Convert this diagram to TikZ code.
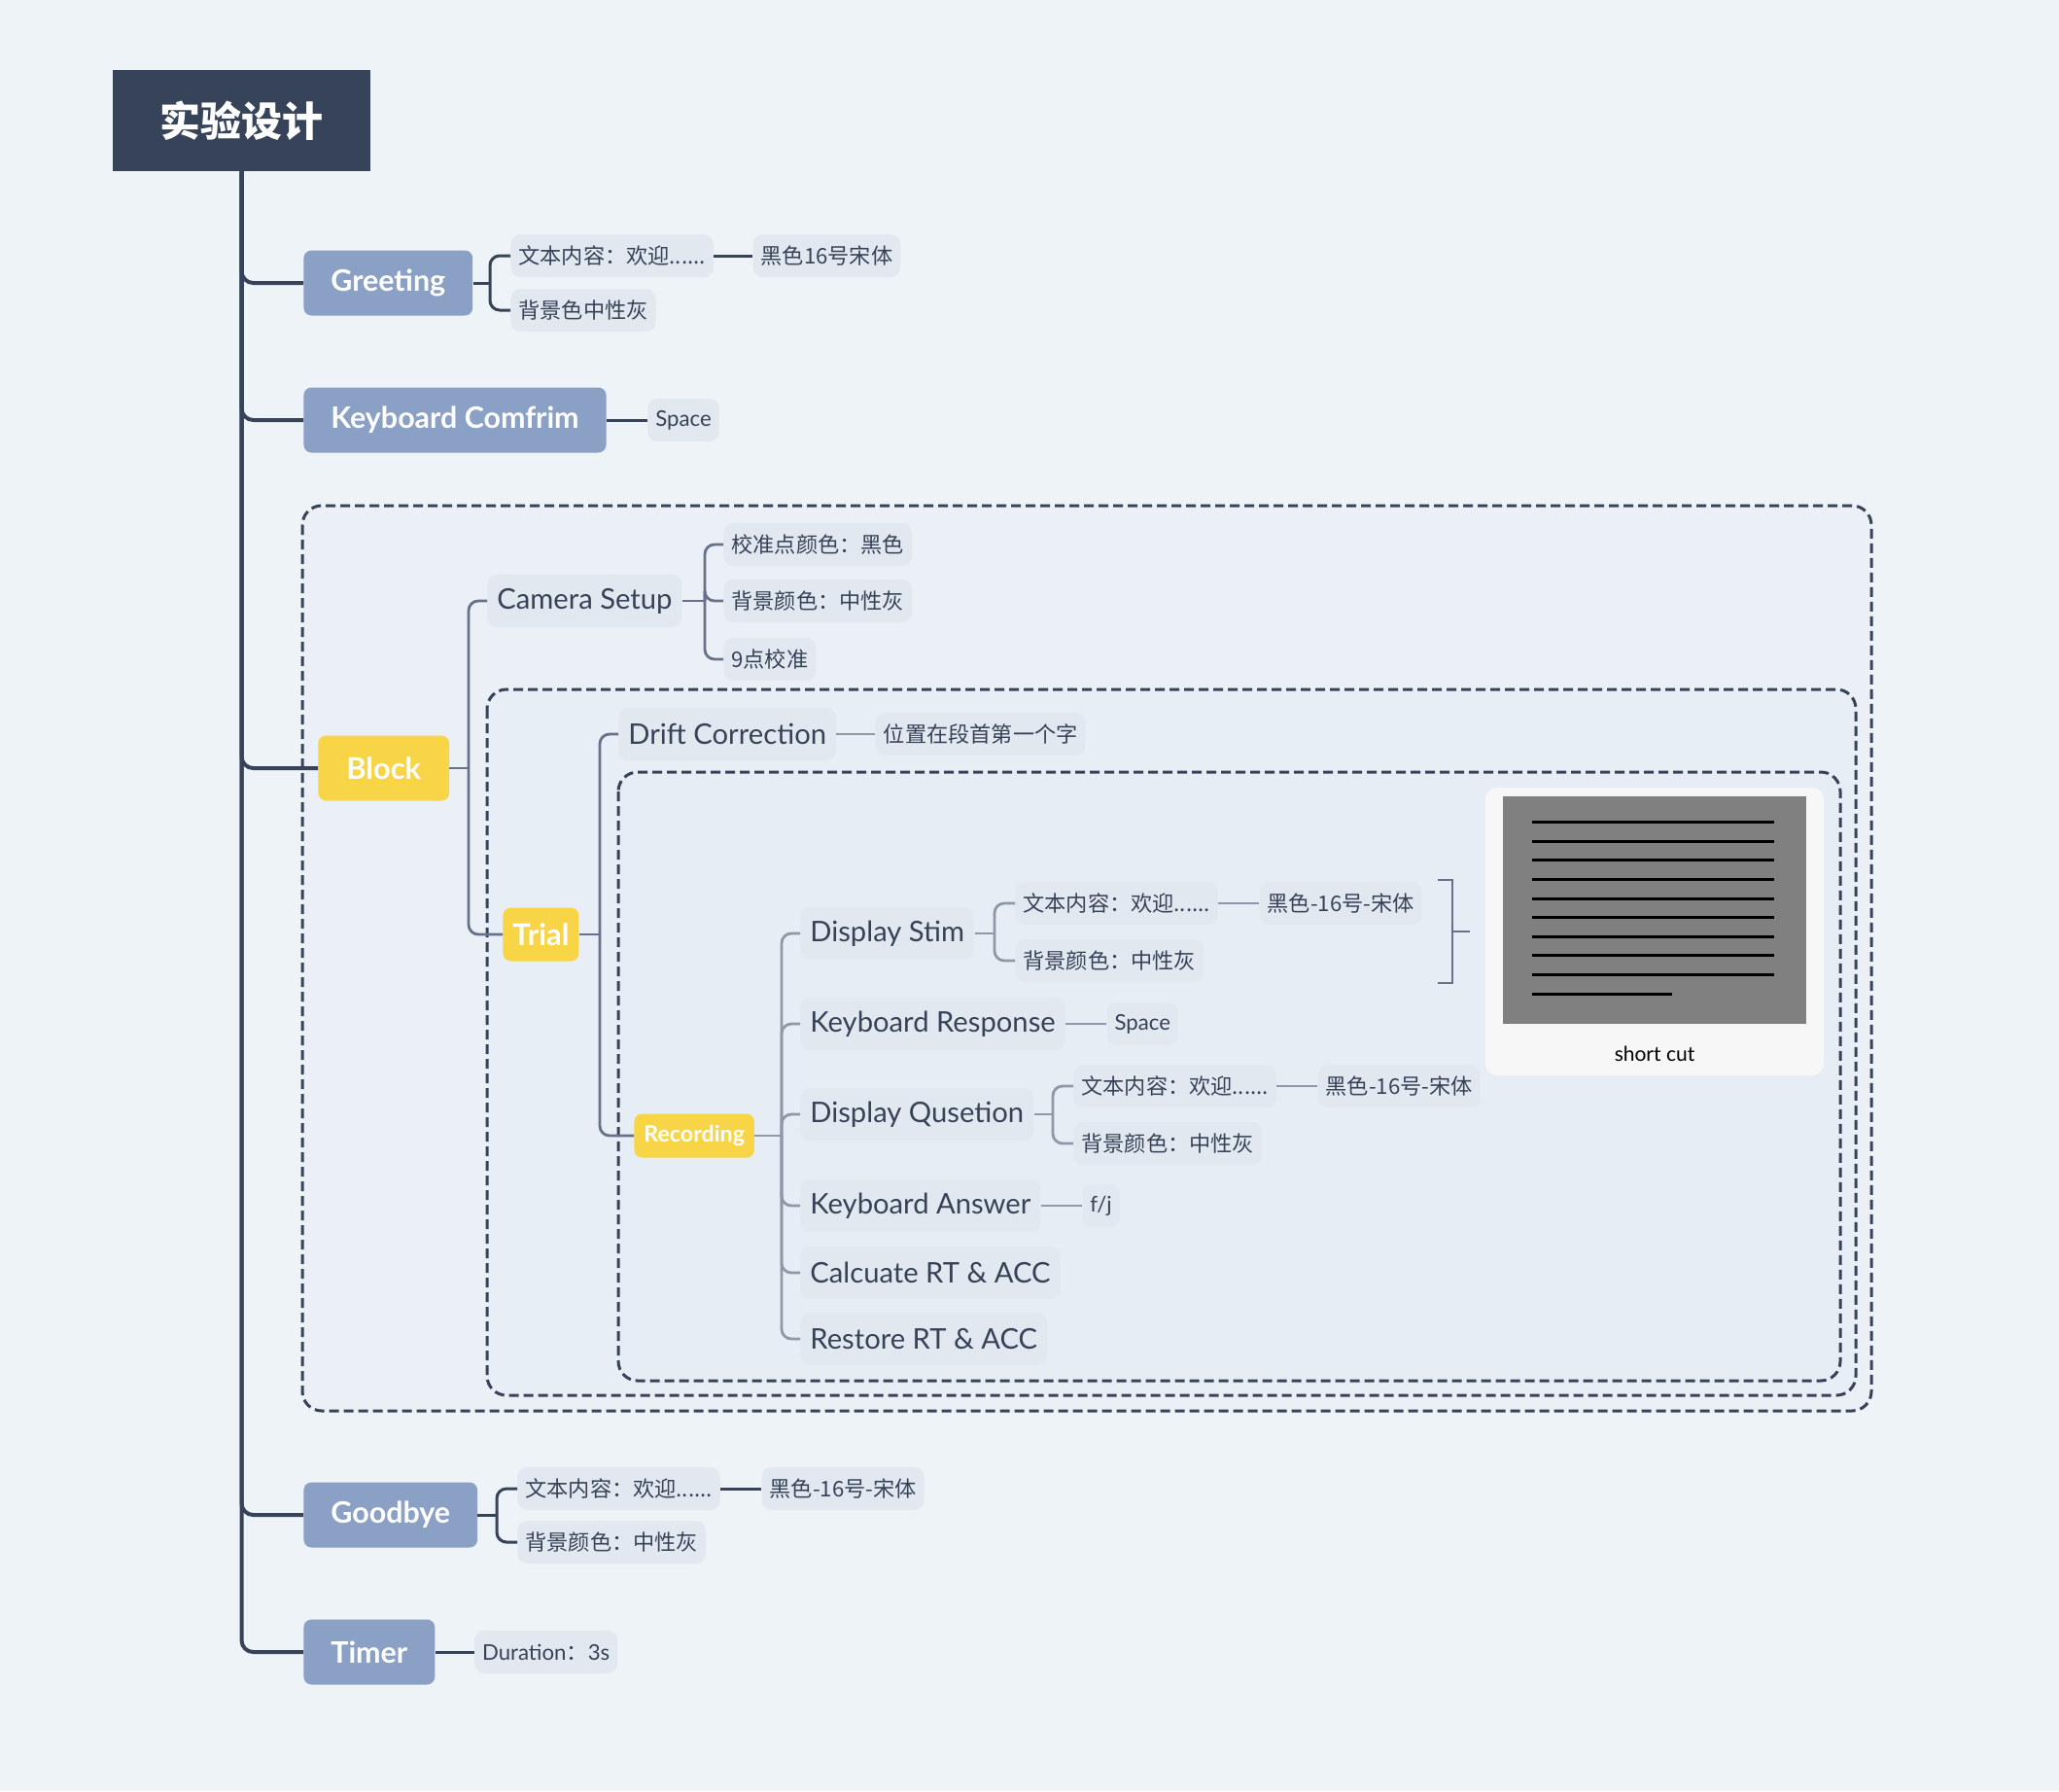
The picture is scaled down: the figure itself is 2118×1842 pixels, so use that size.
\documentclass[tikz,border=0pt]{standalone}
\usepackage{fontspec}
\setmainfont{Lato}
\newfontfamily\cjk{Noto Sans CJK SC}
\usetikzlibrary{positioning, backgrounds}
\definecolor{mbg}{HTML}{EDF3F7}
\definecolor{mroot}{HTML}{364359}
\definecolor{mtopic}{HTML}{8BA0C5}
\definecolor{myellow}{HTML}{F8D447}
\definecolor{mlabel}{HTML}{E2E8F0}
\definecolor{mtext}{HTML}{364357}
\definecolor{mline}{HTML}{364359}
\definecolor{mgrey}{HTML}{66728A}
\definecolor{mlight}{HTML}{8E98A6}
\definecolor{mzoneA}{HTML}{EAF0F6}
\definecolor{mzoneB}{HTML}{E8EEF5}
\definecolor{mzoneC}{HTML}{E7EDF4}
\definecolor{mcard}{HTML}{F7F7F7}
\definecolor{mpic}{HTML}{808080}
\tikzset{
  rootbox/.style={rectangle, fill=mroot, text=white, minimum width=132.5pt, minimum height=52pt,
                  font=\cjk\bfseries\fontsize{21}{25}\selectfont},
  topicbox/.style={rectangle, rounded corners=4pt, fill=mtopic, text=white, minimum height=33.5pt,
                   inner xsep=14pt, font=\bfseries\fontsize{15.2}{18}\selectfont},
  hotbox/.style={rectangle, rounded corners=4pt, fill=myellow, text=white, inner xsep=5pt,
                 font=\bfseries\fontsize{15.4}{18}\selectfont},
  subbox/.style={rectangle, rounded corners=5pt, fill=mlabel, text=mtext, minimum height=27pt,
                 inner xsep=5pt, font=\fontsize{14.6}{17}\selectfont},
  labbox/.style={rectangle, rounded corners=5pt, fill=mlabel, text=mtext, minimum height=22pt,
                 inner xsep=4pt, font=\cjk\fontsize{11.1}{13}\selectfont},
  latbox/.style={labbox, font=\fontsize{11.1}{13}\selectfont},
  zonebox/.style={draw=mline, line width=1.5pt, dash pattern=on 5pt off 2.5pt, rounded corners=10pt},
  trunkline/.style={draw=mline, line width=2pt, rounded corners=6pt},
  darkline/.style={draw=mline, line width=1.5pt, rounded corners=5pt},
  greyline/.style={draw=mgrey, line width=1.4pt, rounded corners=5pt},
  lightline/.style={draw=mlight, line width=1.4pt, rounded corners=5pt},
  sumline/.style={draw=mgrey, line width=1.4pt}
}
\begin{document}
\begin{tikzpicture}[x=0.5pt, y=-0.5pt]
  \fill[mbg] (0,0) rectangle (2118,1842);
  % dashed groups
  \draw[zonebox, fill=mzoneA] (311,520) rectangle (1925,1451);
  \draw[zonebox, fill=mzoneB] (501,709) rectangle (1909,1435);
  \draw[zonebox, fill=mzoneC] (636,794) rectangle (1893,1420);

  \node[rootbox] (root) at (248.5,124) {实验设计};

  % main topics
  \node[topicbox, anchor=west] (greet) at (312,291) {Greeting};
  \node[topicbox, anchor=west] (kbc) at (312,432) {Keyboard Comfrim};
  \node[hotbox, minimum height=33.5pt, inner xsep=14.5pt, anchor=west] (block) at (327,790) {Block};
  \node[topicbox, anchor=west] (bye) at (312,1558) {Goodbye};
  \node[topicbox, anchor=west] (timer) at (312,1699) {Timer};

  \node[labbox, anchor=west] (gtext) at (525,263) {文本内容：欢迎......};
  \node[labbox, right=20pt of gtext] (gfont) {黑色16号宋体};
  \node[labbox, anchor=west] (gback) at (525,319) {背景色中性灰};
  \node[latbox, right=21pt of kbc] (kspace) {Space};

  % block
  \node[subbox, anchor=west] (cam) at (501,618) {Camera Setup};
  \node[labbox, anchor=west] (cdot) at (744,560) {校准点颜色：黑色};
  \node[labbox, anchor=west] (cback) at (744,618) {背景颜色：中性灰};
  \node[labbox, anchor=west] (cnine) at (744,678) {9点校准};

  \node[hotbox, minimum height=27.5pt, anchor=west] (trial) at (517,961) {Trial};
  \node[subbox, anchor=west] (drift) at (636,755) {Drift Correction};
  \node[labbox, right=20pt of drift] (dpos) {位置在段首第一个字};
  \node[hotbox, minimum height=22.5pt, font=\bfseries\fontsize{11.6}{13}\selectfont, anchor=west] (rec) at (652,1168) {Recording};

  % recording steps
  \node[subbox, anchor=west] (stim) at (823,960) {Display Stim};
  \node[subbox, anchor=west] (kresp) at (823,1053) {Keyboard Response};
  \node[subbox, anchor=west] (quest) at (823,1146) {Display Qusetion};
  \node[subbox, anchor=west] (kans) at (823,1240) {Keyboard Answer};
  \node[subbox, anchor=west] (calc) at (823,1309) {Calcuate RT \& ACC};
  \node[subbox, anchor=west] (store) at (823,1377) {Restore RT \& ACC};

  \node[labbox, anchor=west] (stext) at (1044,929) {文本内容：欢迎......};
  \node[labbox, right=21pt of stext] (sfont) {黑色-16号-宋体};
  \node[labbox, anchor=west] (sback) at (1044,988) {背景颜色：中性灰};
  \node[latbox, right=21pt of kresp] (rspace) {Space};
  \node[labbox, anchor=west] (qtext) at (1104,1117) {文本内容：欢迎......};
  \node[labbox, right=21pt of qtext] (qfont) {黑色-16号-宋体};
  \node[labbox, anchor=west] (qback) at (1104,1176) {背景颜色：中性灰};
  \node[latbox, right=21pt of kans] (fj) {f/j};

  % short cut picture
  \node[rectangle, fill=mcard, rounded corners=6pt, minimum width=174pt, minimum height=148pt] (card) at (1702,958) {};
  \node[rectangle, fill=mpic, minimum width=156pt, minimum height=117pt] (pic) at (1702,936) {};
  \foreach \yy in {845,865,884,904,924,943,963,982,1002}
    \draw[black, line width=1.5pt] (1576,\yy) -- (1825,\yy);
  \draw[black, line width=1.5pt] (1576,1022) -- (1720,1022);
  \node[font=\fontsize{10.5}{12}\selectfont, text=black] (cap) at (1702,1084) {short cut};

  % goodbye, timer
  \node[labbox, anchor=west] (btext) at (532,1531) {文本内容：欢迎......};
  \node[labbox, right=21pt of btext] (bfont) {黑色-16号-宋体};
  \node[labbox, anchor=west] (bback) at (532,1586) {背景颜色：中性灰};
  \node[latbox, right=20pt of timer] (dur) {Duration{\cjk ：}3s};

  % connectors
  \foreach \t in {greet,kbc,block,bye,timer}
    \draw[trunkline] (root.south) |- (\t.west);

  \coordinate (gfork) at (504,291);
  \draw[darkline] (greet.east) -- (gfork);
  \foreach \c in {gtext,gback} \draw[darkline] (gfork) |- (\c.west);
  \draw[darkline] (gtext) -- (gfont);
  \draw[darkline] (kbc) -- (kspace);

  \coordinate (bfork) at (482,790);
  \draw[greyline] (block.east) -- (bfork);
  \foreach \c in {cam,trial} \draw[greyline] (bfork) |- (\c.west);
  \coordinate (cfork) at (725,618);
  \draw[greyline] (cam.east) -- (cfork);
  \foreach \c in {cdot,cback,cnine} \draw[greyline] (cfork) |- (\c.west);

  \coordinate (tfork) at (617,961);
  \draw[greyline] (trial.east) -- (tfork);
  \foreach \c in {drift,rec} \draw[greyline] (tfork) |- (\c.west);
  \draw[lightline] (drift) -- (dpos);

  \coordinate (rfork) at (804,1168);
  \draw[lightline] (rec.east) -- (rfork);
  \foreach \c in {stim,kresp,quest,kans,calc,store} \draw[lightline] (rfork) |- (\c.west);

  \coordinate (sfork) at (1023,960);
  \draw[lightline] (stim.east) -- (sfork);
  \foreach \c in {stext,sback} \draw[lightline] (sfork) |- (\c.west);
  \draw[lightline] (stext) -- (sfont);
  \draw[lightline] (kresp) -- (rspace);
  \coordinate (qfork) at (1083,1146);
  \draw[lightline] (quest.east) -- (qfork);
  \foreach \c in {qtext,qback} \draw[lightline] (qfork) |- (\c.west);
  \draw[lightline] (qtext) -- (qfont);
  \draw[lightline] (kans) -- (fj);

  % summary bracket
  \coordinate (sumtop) at (1479,905);
  \coordinate (sumbot) at (1479,1011);
  \coordinate (sumout) at (1512,958);
  \draw[sumline] (sumtop) -- ++(15,0) |- (sumbot);
  \draw[sumline] (sumout) -- ++(-18,0);

  \coordinate (yfork) at (511,1558);
  \draw[darkline] (bye.east) -- (yfork);
  \foreach \c in {btext,bback} \draw[darkline] (yfork) |- (\c.west);
  \draw[darkline] (btext) -- (bfont);
  \draw[darkline] (timer) -- (dur);
\end{tikzpicture}
\end{document}
